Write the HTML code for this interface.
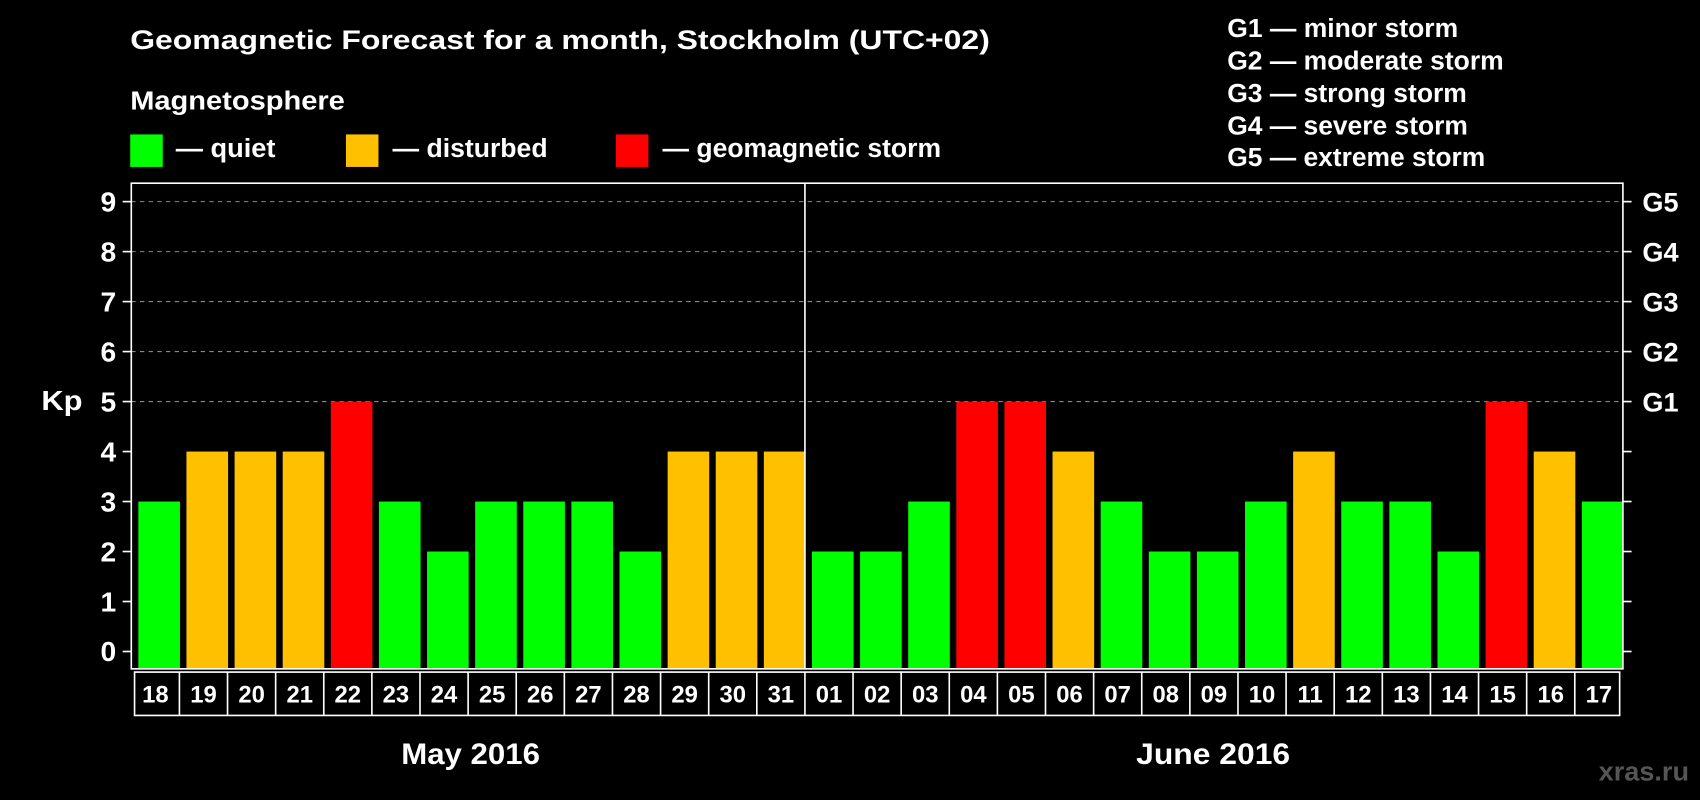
<!DOCTYPE html>
<html><head><meta charset="utf-8"><style>
html,body{margin:0;padding:0;background:#000;width:1700px;height:800px;overflow:hidden}
svg text{font-family:"Liberation Sans",Arial,sans-serif;font-weight:bold;fill:#fff}
</style></head><body>
<svg id="chart" width="1700" height="800" viewBox="0 0 1568 738" xmlns="http://www.w3.org/2000/svg">
<rect x="0" y="0" width="1568" height="738" fill="#000"/>
<text x="120" y="45" font-size="25" textLength="793" lengthAdjust="spacingAndGlyphs">Geomagnetic Forecast for a month, Stockholm (UTC+02)</text>
<text x="120" y="101" font-size="24" textLength="198" lengthAdjust="spacingAndGlyphs">Magnetosphere</text>
<rect x="120" y="124" width="30" height="30" fill="#00ff00"/>
<text x="162" y="145" font-size="24" textLength="92" lengthAdjust="spacingAndGlyphs">— quiet</text>
<rect x="319" y="124" width="30" height="30" fill="#ffc000"/>
<text x="362" y="145" font-size="24" textLength="143" lengthAdjust="spacingAndGlyphs">— disturbed</text>
<rect x="568" y="124" width="30" height="30" fill="#ff0000"/>
<text x="611" y="145" font-size="24" textLength="257" lengthAdjust="spacingAndGlyphs">— geomagnetic storm</text>
<g font-size="24">
<text x="1132" y="34" textLength="213" lengthAdjust="spacingAndGlyphs">G1 — minor storm</text>
<text x="1132" y="64" textLength="255" lengthAdjust="spacingAndGlyphs">G2 — moderate storm</text>
<text x="1132" y="94" textLength="221" lengthAdjust="spacingAndGlyphs">G3 — strong storm</text>
<text x="1132" y="124" textLength="222" lengthAdjust="spacingAndGlyphs">G4 — severe storm</text>
<text x="1132" y="153" textLength="238" lengthAdjust="spacingAndGlyphs">G5 — extreme storm</text>
</g>
<text x="38" y="378" font-size="26" textLength="38" lengthAdjust="spacingAndGlyphs">Kp</text>
<g id="plot"></g>
<text x="370" y="705" font-size="27" textLength="128" lengthAdjust="spacingAndGlyphs">May 2016</text>
<text x="1048" y="705" font-size="27" textLength="142" lengthAdjust="spacingAndGlyphs">June 2016</text>
<text x="1558" y="720" font-size="25" text-anchor="end" style="fill:#555">xras.ru</text>
</svg>
<script>
const days=["18","19","20","21","22","23","24","25","26","27","28","29","30","31","01","02","03","04","05","06","07","08","09","10","11","12","13","14","15","16","17"];
const kp=[3,4,4,4,5,3,2,3,3,3,2,4,4,4,2,2,3,5,5,4,3,2,2,3,4,3,3,2,5,4,3];
const yTicks=[0,1,2,3,4,5,6,7,8,9];
const gLabels=["G1","G2","G3","G4","G5"];
const NS="http://www.w3.org/2000/svg";
const L=121,R=1497,T=169,B=617;
const step=(R-L)/days.length;
const y=v=>601-v*(601-186)/9;
const x=i=>L+i*step;
const g=document.getElementById('plot');
function mk(t,a,p){const e=document.createElementNS(NS,t);for(const k in a)e.setAttribute(k,a[k]);(p||g).appendChild(e);return e;}
yTicks.forEach(v=>{
  if(v>=5){const ln=mk('line',{x1:L,x2:R,y1:y(v),y2:y(v),stroke:'#888','stroke-dasharray':'4,4','stroke-width':1});
  
  }
  mk('line',{x1:L-8,x2:L,y1:y(v),y2:y(v),stroke:'#fff','stroke-width':1.5});
  mk('line',{x1:R,x2:R+8,y1:y(v),y2:y(v),stroke:'#fff','stroke-width':1.5});
  const t=mk('text',{x:L-14,y:y(v)+9,'font-size':26,'text-anchor':'end'});t.textContent=v;
  
  
});
gLabels.forEach((s,i)=>{const t=mk('text',{x:R+18,y:y(5+i)+9,'font-size':25});t.textContent=s;
  
  });
kp.forEach((v,i)=>{
  const c=v>=5?'#ff0000':(v>=4?'#ffc000':'#00ff00');
  const r=mk('rect',{x:x(i)+6.5,y:y(v),width:step-6,height:B-y(v),fill:c});
  
  
});
mk('rect',{x:L,y:T,width:R-L,height:B-T,fill:'none',stroke:'#fff','stroke-width':1.5});
mk('line',{x1:x(14),x2:x(14),y1:T,y2:B,stroke:'#fff','stroke-width':1.5});
mk('rect',{x:L+3,y:620,width:R-L-6,height:40,fill:'none',stroke:'#fff','stroke-width':1.5});
days.forEach((d,i)=>{
  if(i>0)mk('line',{x1:x(i),x2:x(i),y1:620,y2:660,stroke:'#fff','stroke-width':1.5});
  const t=mk('text',{x:x(i)+step/2,y:648,'font-size':22,'text-anchor':'middle'});t.textContent=d;
  
  
});
</script>
</body></html>
